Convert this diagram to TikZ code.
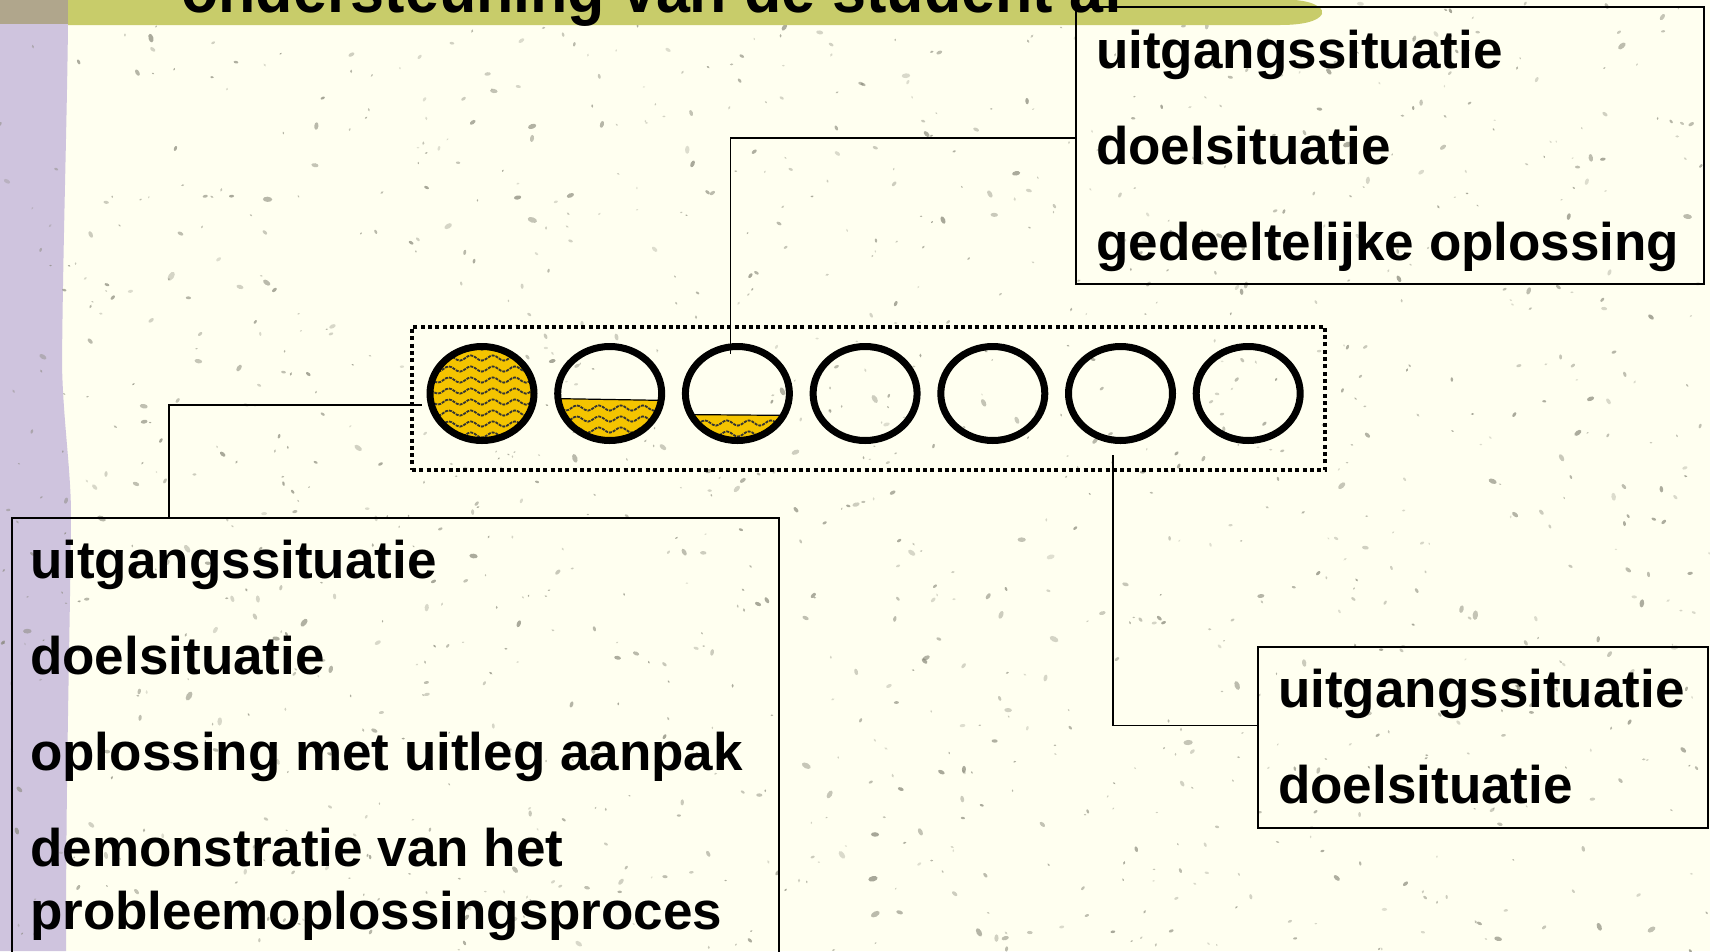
\documentclass[tikz,border=0pt]{standalone}
\usepackage{fontspec}
\setmainfont{Liberation Sans}
\usetikzlibrary{decorations.pathmorphing,shapes.geometric}
\definecolor{cream}{RGB}{255,255,240}
\definecolor{lav}{RGB}{207,196,222}
\definecolor{tanc}{RGB}{176,166,140}
\definecolor{bandc}{RGB}{200,204,106}
\definecolor{gold}{RGB}{244,196,0}
\definecolor{speckc}{RGB}{130,130,115}
\begin{document}
\begin{tikzpicture}[x=1pt,y=-1pt,
  lbl/.style={anchor=base west, inner sep=0pt, font=\fontsize{53}{60}\selectfont\bfseries},
  frame/.style={draw=black, line width=1.6pt, inner sep=0pt, anchor=north west},
  conn/.style={draw=black, line width=1.6pt},
  ring/.style={ellipse, draw=black, line width=7pt, minimum width=104pt, minimum height=94pt, inner sep=0pt},
  wave/.style={draw=black!80, line width=1.8pt, dash pattern=on 3pt off 1pt, decorate, decoration={snake, segment length=22pt, amplitude=2.6pt}},
  dotbox/.style={draw=black, line width=4pt, dash pattern=on 4pt off 3.3pt, inner sep=0pt, anchor=north west}
]
\useasboundingbox (0,0) rectangle (1710,951);
\clip (0,0) rectangle (1710,951);
% background
\fill[cream] (0,0) rectangle (1710,951);
\fill[lav] (0,0) -- (68,0) -- (68,24) .. controls (67,121) and (63,243) .. (62,364)
  .. controls (63,420) and (71,470) .. (71,515) .. controls (70,640) and (66,760) .. (66,951) -- (0,951) -- cycle;
\fill[tanc] (0,0) rectangle (68,24);
% speckles
\pgfmathsetseed{7}
\foreach \i in {1,...,1300}{
  \pgfmathsetmacro\sx{rnd*1710}
  \pgfmathsetmacro\sy{rnd*951}
  \pgfmathsetmacro\sa{rnd*180}
  \pgfmathsetmacro\ss{0.7+rnd*rnd*2.2}
  \pgfmathsetmacro\so{0.25+rnd*0.45}
  \fill[speckc, opacity=\so, rotate around={\sa:(\sx,\sy)}] (\sx,\sy) ellipse [x radius=\ss pt, y radius=1.8*\ss pt];
}
% title band
\fill[bandc] (68,0) -- (1295,0) .. controls (1318,2) and (1324,10) .. (1322,14)
  .. controls (1318,22) and (1300,25) .. (1280,25) -- (68,25) -- cycle;
\node[anchor=base west, inner sep=0pt, xscale=0.925, font=\fontsize{66}{70}\selectfont\bfseries] (title) at (181,12) {ondersteuning van de student af};
% circles fills
\begin{scope}
  \clip (482,393.5) ellipse [x radius=52pt, y radius=47pt];
  \fill[gold] (420,330) rectangle (545,460);
  \foreach \yy in {347,358,...,446} \draw[wave] (420,\yy) -- (552,\yy);
\end{scope}
\begin{scope}
  \clip (609.7,393.5) ellipse [x radius=52pt, y radius=47pt];
  \fill[gold] (550,398.5) -- (670,400.5) -- (670,460) -- (550,460) -- cycle;
  \foreach \yy in {408,419,430,441} \draw[wave] (548,\yy) -- (680,\yy);
  \draw[black, line width=1.2pt] (550,398.5) -- (670,400.5);
\end{scope}
\begin{scope}
  \clip (737.4,393.5) ellipse [x radius=52pt, y radius=47pt];
  \fill[gold] (680,414.5) -- (800,415.5) -- (800,460) -- (680,460) -- cycle;
  \foreach \yy in {423,434} \draw[wave] (676,\yy) -- (808,\yy);
  \draw[black, line width=1.2pt] (680,414.5) -- (800,415.5);
\end{scope}
% rings
\node[ring] (c1) at (482,393.5) {};
\node[ring] (c2) at (609.7,393.5) {};
\node[ring] (c3) at (737.4,393.5) {};
\node[ring] (c4) at (865.1,393.5) {};
\node[ring] (c5) at (992.8,393.5) {};
\node[ring] (c6) at (1120.5,393.5) {};
\node[ring] (c7) at (1248.2,393.5) {};
\node[dotbox, minimum width=913pt, minimum height=143pt] (dots) at (410,325) {};
% boxes
\node[frame, minimum width=628pt, minimum height=277pt] (tr) at (1075,6) {};
\node[frame, minimum width=767pt, minimum height=460pt] (bl) at (11,517) {};
\node[frame, minimum width=450pt, minimum height=181pt] (br) at (1257,646) {};
% texts
\node[lbl] (t1) at (1096,68) {uitgangssituatie};
\node[lbl] (t2) at (1096,164) {doelsituatie};
\node[lbl] (t3) at (1096,260) {gedeeltelijke oplossing};
\node[lbl] (l1) at (30,578) {uitgangssituatie};
\node[lbl] (l2) at (30,674) {doelsituatie};
\node[lbl] (l3) at (30,770) {oplossing met uitleg aanpak};
\node[lbl] (l4) at (30,866) {demonstratie van het};
\node[lbl] (l5) at (30,929) {probleemoplossingsproces};
\node[lbl] (r1) at (1278,707) {uitgangssituatie};
\node[lbl] (r2) at (1278,803) {doelsituatie};
% connectors
\coordinate (lx) at (169,0);
\draw[conn] ([yshift=7.5pt]tr.west) -| ([xshift=-7pt,yshift=-11pt]c3.north);
\draw[conn] ([xshift=-5pt,yshift=-11.5pt]c1.west) -| (bl.north -| lx);
\draw[conn] ([xshift=-7.5pt,yshift=-11pt]c6.south) |- ([yshift=12pt]br.west);
\end{tikzpicture}
\end{document}
